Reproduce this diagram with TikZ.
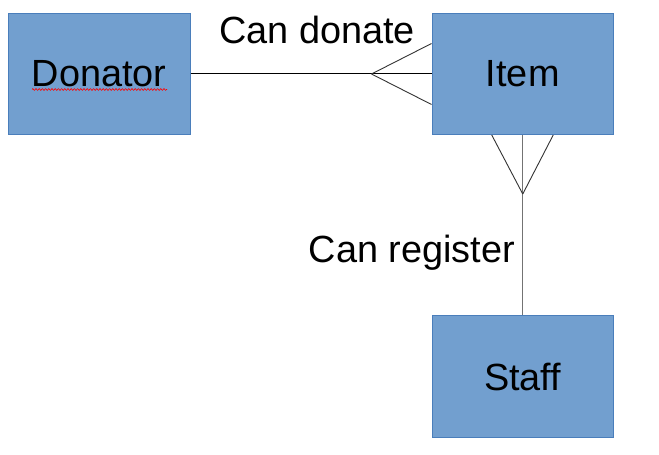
\documentclass[tikz,border=0pt]{standalone}
\usepackage{fontspec}
\setmainfont{Liberation Sans}
\usetikzlibrary{calc,decorations.pathmorphing}
\definecolor{boxfill}{HTML}{729FCF}
\definecolor{boxline}{HTML}{4A7EBB}
\tikzset{
  entity/.style={draw=boxline, fill=boxfill, line width=1bp, minimum width=181.5bp, minimum height=121bp, inner sep=0pt, font=\fontsize{38}{45}\selectfont},
  lbl/.style={anchor=base, inner sep=0pt, font=\fontsize{38}{45}\selectfont},
  rel/.style={draw=black, line width=1bp},
  foot/.style={draw=black!80, line width=0.9bp}
}
\begin{document}
\begin{tikzpicture}[x=1bp,y=-1bp]
\useasboundingbox (0,0) rectangle (659,455);
\node[entity] (don) at (99.25,74) {Donator};
\node[entity] (item) at (522.75,74) {Item};
\node[entity] (staff) at (522.75,376.5) {Staff};
\node[lbl] (l1) at (317,44) {Can donate};
\node[lbl] (l2) at (412,263) {Can register};
% spell-check squiggle
\coordinate (sq1) at (32,89.5);
\coordinate (sq2) at (167,89.5);
\draw[red, line width=0.6bp, decorate, decoration={zigzag, segment length=3.2bp, amplitude=0.9bp}] (sq1) -- (sq2);
% Donator - Item
\draw[rel] (don.east) -- (item.west);
\coordinate (a1) at ($(item.west)+(-60,0)$);
\draw[foot] (a1) -- ($(item.north west)!0.25!(item.south west)$);
\draw[foot] (a1) -- ($(item.north west)!0.75!(item.south west)$);
% Item - Staff
\draw[rel, draw=black!55] (item.south) -- (staff.north);
\coordinate (a2) at ($(item.south)+(0,59)$);
\draw[foot] (a2) -- ($(item.south west)!0.33!(item.south east)$);
\draw[foot] (a2) -- ($(item.south west)!0.667!(item.south east)$);
\end{tikzpicture}
\end{document}
